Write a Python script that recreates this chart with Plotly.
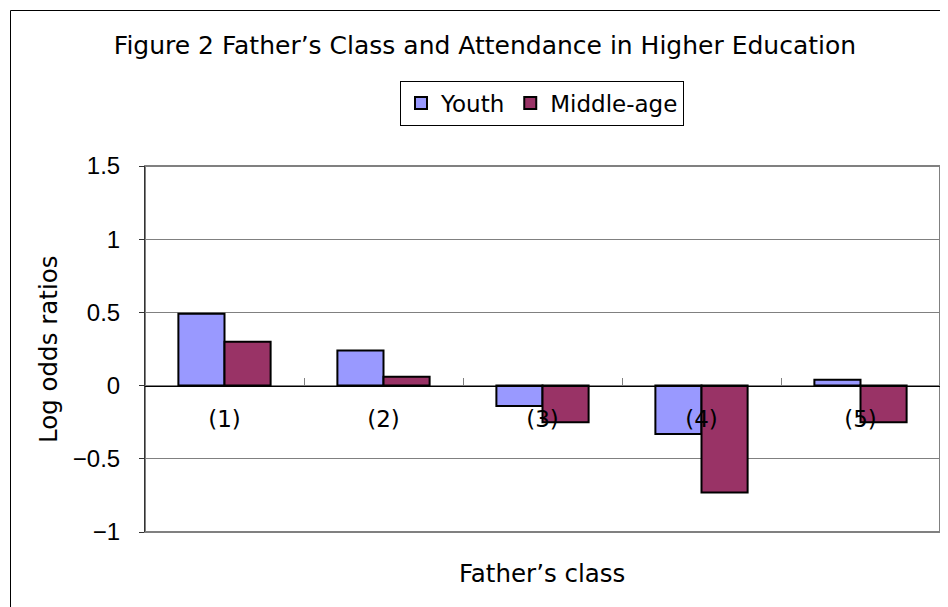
import plotly.graph_objects as go

categories = ["(1)", "(2)", "(3)", "(4)", "(5)"]
youth = [0.49, 0.24, -0.14, -0.33, 0.04]
middle_age = [0.30, 0.06, -0.25, -0.73, -0.25]
y_ticks = [-1, -0.5, 0, 0.5, 1, 1.5]
y_tick_labels = ["−1", "−0.5", "0", "0.5", "1", "1.5"]
y_range = [-1, 1.5]

sans = "DejaVu Sans, sans-serif"
arial = "Liberation Sans, Arial, sans-serif"

# The page body has an 8px default margin; work in screen pixels and offset.
OFF = 8
W, H = 948 - OFF, 607 - OFF
PL, PR, PT, PB = 145 - OFF, 940 - OFF, 166 - OFF, 532 - OFF
PW, PH = PR - PL, PB - PT

fig = go.Figure()
fig.add_trace(go.Bar(name="Youth", x=categories, y=youth,
                     marker=dict(color="#9999FF", line=dict(color="black", width=2))))
fig.add_trace(go.Bar(name="Middle-age", x=categories, y=middle_age,
                     marker=dict(color="#993366", line=dict(color="black", width=2))))

zero_pos = (0 - y_range[0]) / (y_range[1] - y_range[0])


def px(xs):
    return (xs - OFF - PL) / PW


def py(ys):
    return (PB - (ys - OFF)) / PH


fig.update_layout(
    width=W, height=H,
    margin=dict(l=PL, r=W - PR, t=PT, b=H - PB, autoexpand=False),
    paper_bgcolor="white", plot_bgcolor="white",
    barmode="group", bargap=0.42, bargroupgap=0,
    showlegend=True,
    title=dict(text="Figure 2 Father’s Class and Attendance in Higher Education",
               x=(485 - OFF) / W, xanchor="center", xref="container",
               y=1 - (45 - OFF) / H, yanchor="middle", yref="container",
               font=dict(family=sans, size=25, color="black")),
    legend=dict(orientation="h", x=(542 - OFF) / W, xanchor="center", xref="container",
                y=1 - (103 - OFF) / H, yanchor="middle", yref="container",
                bordercolor="black", borderwidth=1, bgcolor="white",
                font=dict(family=sans, size=23, color="black"),
                itemwidth=30, tracegroupgap=0),
    xaxis=dict(anchor="free", position=zero_pos, showline=True, linecolor="black", linewidth=1,
               ticks="inside", tickson="boundaries", ticklen=8, tickcolor="#808080",
               tickfont=dict(family=sans, size=23, color="black"),
               ticklabelstandoff=13, showgrid=False, automargin=False,
               title=None),
    yaxis=dict(range=y_range, tickvals=y_ticks, ticktext=y_tick_labels,
               showline=True, linecolor="#333333", linewidth=1,
               ticks="outside", ticklen=5, tickcolor="#333333",
               ticklabelstandoff=14,
               tickfont=dict(family=arial, size=24, color="black"),
               showgrid=True, gridcolor="#808080", gridwidth=1,
               zeroline=False, automargin=False,
               title=None),
    annotations=[
        dict(text="Father’s class", xref="paper", yref="paper", x=px(542), y=py(573),
             xanchor="center", yanchor="middle", showarrow=False,
             font=dict(family=sans, size=24.5, color="black")),
        dict(text="Log odds ratios", xref="paper", yref="paper",
             x=px(48), y=py(350), textangle=-90,
             xanchor="center", yanchor="middle", showarrow=False,
             font=dict(family=sans, size=24.5, color="black")),
    ],
    shapes=[
        dict(type="rect", xref="paper", yref="paper", x0=0, x1=1, y0=0, y1=1,
             line=dict(color="#808080", width=2), layer="below"),
        dict(type="rect", xref="paper", yref="paper", x0=px(10.5), x1=px(990),
             y0=py(650), y1=py(10.5),
             line=dict(color="black", width=1), layer="below"),
    ],
)

fig.write_html("out.html")
